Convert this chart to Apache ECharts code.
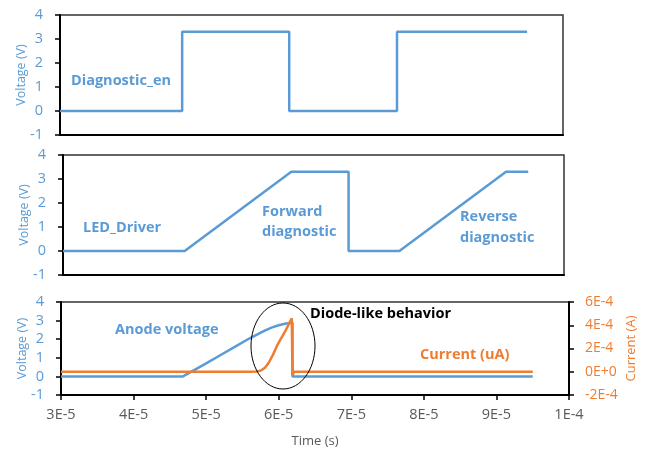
<!DOCTYPE html>
<html>
<head>
<meta charset="utf-8">
<script src="https://cdn.jsdelivr.net/npm/echarts@6/dist/echarts.min.js"></script>
<style>
  html, body { margin: 0; padding: 0; background: #fff; }
  #main { width: 666px; height: 449px; }
</style>
</head>
<body>
<div id="main"></div>
<script>
// 数据
var xTickLabels = ['3E-5', '4E-5', '5E-5', '6E-5', '7E-5', '8E-5', '9E-5', '1E-4'];
var curTickLabels = ['-2E-4', '0E+0', '2E-4', '4E-4', '6E-4'];

// Diagnostic_en (step signal)
var enTime = [3.0e-5, 4.7e-5, 4.7e-5, 6.19e-5, 6.19e-5, 7.69e-5, 7.69e-5, 9.5e-5];
var enVolt = [0, 0, 3.3, 3.3, 0, 0, 3.3, 3.3];

// LED_Driver
var drvTime = [3.0e-5, 4.7e-5, 6.19e-5, 6.99e-5, 6.99e-5, 7.7e-5, 9.19e-5, 9.5e-5];
var drvVolt = [0, 0, 3.3, 3.3, 0, 0, 3.3, 3.3];

// Anode voltage
var anodeTime = [3.0e-5, 4.68e-5, 5.0e-5, 5.2e-5, 5.4e-5, 5.6e-5, 5.8e-5, 5.9e-5, 6.0e-5, 6.1e-5, 6.19e-5, 6.19e-5, 9.5e-5];
var anodeVolt = [0, 0, 0.7, 1.15, 1.6, 2.05, 2.45, 2.62, 2.75, 2.84, 2.88, 0, 0];

// Current (A)
var curTime = [3.0e-5, 5.6e-5, 5.7e-5, 5.76e-5, 5.81e-5, 5.86e-5, 5.92e-5, 5.99e-5, 6.09e-5, 6.18e-5, 6.19e-5, 6.21e-5, 9.5e-5];
var curAmp = [0, 0, 0.02e-4, 0.12e-4, 0.35e-4, 0.75e-4, 1.45e-4, 2.4e-4, 3.5e-4, 4.6e-4, -0.35e-4, 0, 0];

function zip(t, v) {
    return t.map(function (x, i) { return [x, v[i]]; });
}

var blue = '#5B9BD5';
var orange = '#ED7D31';
var grey = '#595959';
var font = '"Open Sans", "Liberation Sans", sans-serif';
var noteFont = 'bold 14.5px ' + font;

var chart = echarts.init(document.getElementById('main'));

function xAxisFor(idx, showLabels) {
    return {
        type: 'value',
        gridIndex: idx,
        min: 3e-5,
        max: 1e-4,
        interval: 1e-5,
        splitLine: { show: false },
        axisLine: { show: true, onZero: false, lineStyle: { color: '#000', width: 2 } },
        axisTick: { show: showLabels, inside: false, length: 5, lineStyle: { color: '#000', width: 1.5 } },
        axisLabel: {
            show: showLabels,
            margin: 12,
            color: grey,
            fontSize: 14.5,
            fontFamily: font,
            formatter: function (v) { return xTickLabels[Math.round((v - 3e-5) / 1e-5)]; }
        },
        name: showLabels ? 'Time (s)' : '',
        nameLocation: 'middle',
        nameGap: 40,
        nameMoveOverlap: false,
        nameTextStyle: { color: grey, fontSize: 13, fontFamily: font }
    };
}

function voltAxisFor(idx) {
    return {
        type: 'value',
        gridIndex: idx,
        min: -1,
        max: 4,
        interval: 1,
        splitLine: { show: false },
        axisLine: { show: true, onZero: false, lineStyle: { color: '#000', width: 2 } },
        axisTick: { show: true, length: 5, lineStyle: { color: '#000', width: 1.5 } },
        axisLabel: { margin: 17, color: blue, fontSize: 14.5, fontFamily: font },
        name: 'Voltage (V)',
        nameLocation: 'middle',
        nameRotate: 90,
        nameGap: 32,
        nameMoveOverlap: false,
        nameTextStyle: { color: blue, fontSize: 12.5, fontFamily: font }
    };
}

var option = {
    backgroundColor: '#fff',
    animation: false,
    grid: [
        { left: 60, top: 15, width: 503, height: 120, show: true, borderColor: '#333', borderWidth: 1.5 },
        { left: 63, top: 155, width: 501, height: 120, show: true, borderColor: '#333', borderWidth: 1.5 },
        { left: 61, top: 302, width: 508, height: 94, show: true, borderColor: '#333', borderWidth: 1.5 }
    ],
    xAxis: [xAxisFor(0, false), xAxisFor(1, false), xAxisFor(2, true)],
    yAxis: [
        voltAxisFor(0),
        voltAxisFor(1),
        voltAxisFor(2),
        {
            type: 'value',
            gridIndex: 2,
            position: 'right',
            min: -2e-4,
            max: 6e-4,
            interval: 2e-4,
            splitLine: { show: false },
            axisLine: { show: true, onZero: false, lineStyle: { color: '#000', width: 2 } },
            axisTick: { show: true, length: 5, lineStyle: { color: '#000', width: 1.5 } },
            axisLabel: {
                margin: 16,
                color: orange,
                fontSize: 14,
                fontFamily: font,
                formatter: function (v) { return curTickLabels[Math.round((v + 2e-4) / 2e-4)]; }
            },
            name: 'Current (A)',
            nameLocation: 'middle',
            nameRotate: 90,
            nameGap: 56,
            nameMoveOverlap: false,
            nameTextStyle: { color: orange, fontSize: 13, fontFamily: font }
        }
    ],
    series: [{
        name: 'Diagnostic_en',
        type: 'line',
        xAxisIndex: 0,
        yAxisIndex: 0,
        showSymbol: false,
        data: zip(enTime, enVolt),
        lineStyle: { color: blue, width: 2.5 }
    }, {
        name: 'LED_Driver',
        type: 'line',
        xAxisIndex: 1,
        yAxisIndex: 1,
        showSymbol: false,
        data: zip(drvTime, drvVolt),
        lineStyle: { color: blue, width: 2.5 }
    }, {
        name: 'Anode voltage',
        type: 'line',
        xAxisIndex: 2,
        yAxisIndex: 2,
        showSymbol: false,
        data: zip(anodeTime, anodeVolt),
        lineStyle: { color: blue, width: 2.5 }
    }, {
        name: 'Current (uA)',
        type: 'line',
        xAxisIndex: 2,
        yAxisIndex: 3,
        showSymbol: false,
        data: zip(curTime, curAmp),
        lineStyle: { color: orange, width: 2.5 }
    }],
    graphic: [
        { type: 'text', x: 71, y: 81, style: { text: 'Diagnostic_en', fill: blue, font: noteFont, verticalAlign: 'middle' } },
        { type: 'text', x: 83, y: 228, style: { text: 'LED_Driver', fill: blue, font: noteFont, verticalAlign: 'middle' } },
        { type: 'text', x: 262, y: 222, style: { text: 'Forward\ndiagnostic', fill: blue, font: noteFont, lineHeight: 20, verticalAlign: 'middle' } },
        { type: 'text', x: 460, y: 227, style: { text: 'Reverse\ndiagnostic', fill: blue, font: noteFont, lineHeight: 21, verticalAlign: 'middle' } },
        { type: 'text', x: 115, y: 330, style: { text: 'Anode voltage', fill: blue, font: noteFont, verticalAlign: 'middle' } },
        { type: 'text', x: 310, y: 314, style: { text: 'Diode-like behavior', fill: '#000', font: noteFont, verticalAlign: 'middle' } },
        { type: 'text', x: 420, y: 355, style: { text: 'Current (uA)', fill: orange, font: noteFont, verticalAlign: 'middle' } },
        { type: 'ellipse', shape: { cx: 283, cy: 346, rx: 32, ry: 43 }, style: { fill: 'none', stroke: '#000', lineWidth: 1 }, z: 100 }
    ]
};

chart.setOption(option);
</script>
</body>
</html>
